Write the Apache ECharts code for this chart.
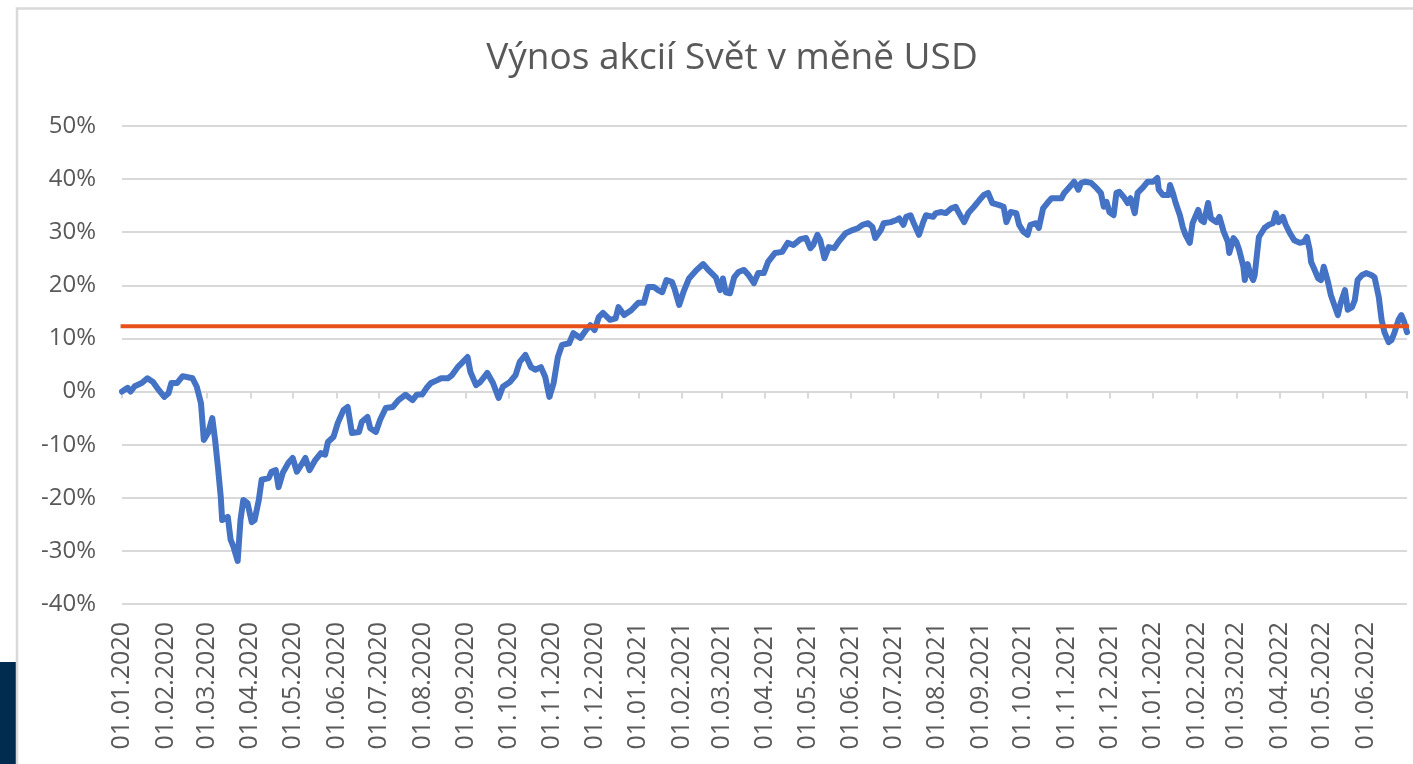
<!DOCTYPE html>
<html>
<head>
<meta charset="utf-8">
<title>Výnos akcií Svět v měně USD</title>
<script src="https://cdn.jsdelivr.net/npm/echarts@6/dist/echarts.min.js"></script>
<style>
html,body{margin:0;padding:0;background:#fff;}
#box1{width:1413px;height:764px;}
</style>
</head>
<body>
<div id="box1"></div>
<script>
// data, dd per year + return in %
var days2020=['01-01','01-05','01-07','01-10','01-15','01-19','01-23','01-27','01-31','02-03','02-05','02-09','02-13','02-20','02-23','02-26','02-28',
	'03-02','03-05','03-07','03-09','03-11','03-12','03-16','03-18','03-20','03-23','03-25','03-27','03-30','04-02','04-04','04-07','04-09','04-14','04-16',
	'04-19','04-21','04-24','04-28','05-01','05-04','05-08','05-10','05-13','05-17','05-21','05-24','05-26','05-30','06-02','06-06','06-09','06-12','06-17',
	'06-19','06-23','06-25','06-29','07-02','07-06','07-11','07-15','07-20','07-25','07-28','08-01','08-04','08-07','08-12','08-14','08-19','08-22','08-26',
	'08-29','09-02','09-04','09-08','09-11','09-16','09-20','09-24','09-27','10-02','10-06','10-09','10-13','10-17','10-20','10-24','10-27','10-30','11-02',
	'11-05','11-08','11-13','11-16','11-21','11-25','11-28','12-01','12-04','12-07','12-12','12-16','12-18','12-22','12-27'];
var ret2020=[0.0,0.7,0.0,1.0,1.6,2.5,1.8,0.3,-1.0,-0.3,1.6,1.6,2.9,2.5,0.9,-2.2,-9.1,
	-7.8,-5.0,-9.1,-14.2,-19.8,-24.2,-23.6,-27.9,-29.2,-31.9,-24.2,-20.4,-21.0,-24.6,-24.2,-20.4,-16.6,-16.3,-15.1,
	-14.8,-18.0,-15.3,-13.4,-12.5,-15.1,-13.4,-12.5,-14.8,-12.9,-11.6,-11.9,-9.5,-8.5,-5.9,-3.5,-2.9,-7.8,-7.6,
	-5.7,-4.8,-6.9,-7.6,-5.3,-3.1,-2.9,-1.6,-0.6,-1.6,-0.6,-0.5,0.7,1.6,2.2,2.5,2.5,3.1,4.6,
	5.4,6.5,3.7,1.2,1.8,3.5,1.6,-1.2,0.9,1.8,3.1,5.6,6.9,4.6,4.1,4.6,2.8,-1.0,1.6,
	6.5,8.8,9.1,11.0,10.1,11.6,12.5,11.6,14.0,14.8,13.5,13.8,15.9,14.4,15.3];

var days2021=['01-01','01-05','01-08','01-12','01-15','01-18','01-21','01-25','01-27','01-30','02-02','02-06','02-11','02-16','02-20','02-25','02-28',
	'03-02','03-04','03-07','03-10','03-13','03-17','03-20','03-24','03-27','03-31','04-03','04-08','04-13','04-17','04-21','04-26','04-30','05-03','05-05',
	'05-08','05-10','05-13','05-16','05-20','05-23','05-28','06-02','06-06','06-09','06-13','06-16','06-18','06-22','06-24','06-29','07-03','07-05','07-08',
	'07-10','07-13','07-15','07-19','07-22','07-24','07-29','07-31','08-04','08-07','08-11','08-14','08-16','08-20','08-23','08-27','08-31','09-03','09-06',
	'09-09','09-14','09-17','09-19','09-22','09-26','09-28','10-01','10-04','10-06','10-10','10-12','10-15','10-18','10-21','10-24','10-28','10-30','11-02',
	'11-06','11-09','11-11','11-14','11-18','11-22','11-25','11-27','11-29','12-01','12-04','12-06','12-08','12-11','12-14','12-16','12-19','12-21','12-25','12-28'];
var ret2021=[16.7,16.7,19.7,19.7,19.1,18.7,21.0,20.6,19.1,16.3,18.7,21.3,22.8,24.0,22.8,21.5,19.1,
	21.3,18.7,18.5,21.5,22.5,22.9,22.0,20.4,22.3,22.3,24.4,26.1,26.3,28.0,27.6,28.7,28.9,27.0,27.6,
	29.5,28.5,25.1,27.2,27.0,28.2,29.8,30.4,30.8,31.4,31.7,31.0,28.9,30.4,31.7,31.9,32.3,32.6,31.4,
	32.9,33.2,31.9,29.5,31.9,33.2,32.9,33.6,33.8,33.6,34.5,34.8,33.8,31.9,33.6,34.8,36.1,37.0,37.4,
	35.5,35.1,34.8,31.9,33.8,33.6,31.4,30.1,29.5,31.4,31.7,30.8,34.5,35.5,36.4,36.4,36.4,37.4,38.3,
	39.5,38.0,39.3,39.5,39.3,38.3,37.4,34.8,35.7,33.8,33.2,37.4,37.6,36.7,35.5,36.4,33.6,37.4,38.5,39.5];

var days2022=['01-01','01-04','01-05','01-08','01-12','01-13','01-15','01-17','01-20','01-22','01-24','01-27','01-29','02-02','02-04','02-06','02-09',
	'02-11','02-15','02-17','02-20','02-23','02-24','02-27','03-01','03-03','03-06','03-07','03-09','03-11','03-13','03-14','03-17','03-21','03-24','03-27',
	'03-29','03-31','04-03','04-05','04-08','04-11','04-15','04-18','04-20','04-22','04-23','04-25','04-28','04-30','05-02','05-05','05-07','05-10','05-12',
	'05-14','05-17','05-19','05-22','05-24','05-26','05-29','06-01','06-05','06-07','06-10','06-12','06-14','06-17','06-19','06-21','06-24','06-26','06-28','06-30'];
var ret2022=[39.5,40.2,38.0,37.0,37.0,38.9,37.4,35.5,33.2,31.0,29.5,28.0,31.7,34.2,32.3,31.9,35.5,
	32.6,31.9,32.9,30.1,28.2,26.1,28.9,28.2,26.7,23.5,21.0,24.0,22.0,21.0,21.9,29.1,30.8,31.4,31.7,
	33.6,31.9,32.9,31.4,29.8,28.5,28.0,28.2,29.1,26.7,24.4,23.2,21.3,21.0,23.5,20.6,18.2,15.9,14.4,
	16.7,19.1,15.4,15.9,17.2,21.0,21.9,22.3,21.9,21.5,17.8,13.5,11.2,9.3,9.7,11.0,13.5,14.4,13.1,11.2];

// red reference line, % (it runs a little past the plot on the right)
var hranice=12.3;
var hraniceOd='2019-12-31', hraniceDo='2022-07-04';
var osaOd='2020-01-01', osaDo='2022-06-30';

function pary(rok,dny,hodnoty){
	var out=[];
	for(var i=0;i<dny.length;i++){
		out.push([rok+'-'+dny[i],hodnoty[i]]);
	}
	return out;
}
function dvojmisto(n){return n<10?'0'+n:''+n;}

var rada=pary(2020,days2020,ret2020).concat(pary(2021,days2021,ret2021),pary(2022,days2022,ret2022));

var seda='#595959', mrizka='#d9d9d9';
var mesic=24*3600*1000;
var chart=echarts.init(document.getElementById('box1'));
var option={
	animation:false,
	backgroundColor:'#fff',
	title:{
		text:'Výnos akcií Svět v měně USD',
		left:727,
		textAlign:'center',
		top:35,
		textStyle:{fontFamily:'Open Sans',fontSize:37,fontWeight:'normal',color:seda}
	},
	grid:{left:122,right:6,top:126,bottom:160,outerBoundsMode:'none'},
	xAxis:[{
		type:'time',
		position:'bottom',
		min:osaOd,
		max:osaDo,
		splitNumber:30,
		minInterval:28*mesic,
		maxInterval:31*mesic,
		axisLine:{show:false,onZero:false},
		axisTick:{show:false},
		splitLine:{show:false},
		axisLabel:{
			rotate:90,
			margin:18,
			fontFamily:'Open Sans',
			fontSize:25,
			color:seda,
			hideOverlap:false,
			formatter:function(v){
				var d=new Date(v);
				return dvojmisto(d.getDate())+'.'+dvojmisto(d.getMonth()+1)+'.'+d.getFullYear();
			}
		}
	},{
		// osa na nule jen s carou a carkami
		type:'time',
		position:'bottom',
		min:osaOd,
		max:osaDo,
		splitNumber:30,
		minInterval:28*mesic,
		maxInterval:31*mesic,
		axisLine:{show:true,onZero:true,lineStyle:{color:mrizka,width:2}},
		axisTick:{show:true,length:7,lineStyle:{color:mrizka,width:2}},
		axisLabel:{show:false},
		splitLine:{show:false}
	}],
	yAxis:{
		type:'value',
		min:-40,
		max:50,
		interval:10,
		axisLine:{show:false},
		axisTick:{show:false},
		axisLabel:{formatter:'{value}%',margin:26,fontFamily:'Open Sans',fontSize:24,color:seda},
		splitLine:{lineStyle:{color:mrizka,width:2}}
	},
	series:[{
		name:'Svět USD',
		type:'line',
		xAxisIndex:1,
		data:rada,
		showSymbol:false,
		lineStyle:{color:'#4472C4',width:6,cap:'round',join:'round'},
		z:3
	},{
		name:'hranice',
		type:'line',
		xAxisIndex:1,
		clip:false,
		data:[[hraniceOd,hranice],[hraniceDo,hranice]],
		showSymbol:false,
		lineStyle:{color:'#E5501B',width:4},
		z:4
	}],
	graphic:[{
		type:'rect',
		shape:{x:0,y:662,width:16,height:102},
		style:{fill:'#012B4F'}
	},{
		type:'polyline',
		shape:{points:[[17,764],[17,8.5],[1413,8.5]]},
		style:{stroke:mrizka,lineWidth:2.5,fill:null}
	}]
};
chart.setOption(option);
</script>
</body>
</html>
